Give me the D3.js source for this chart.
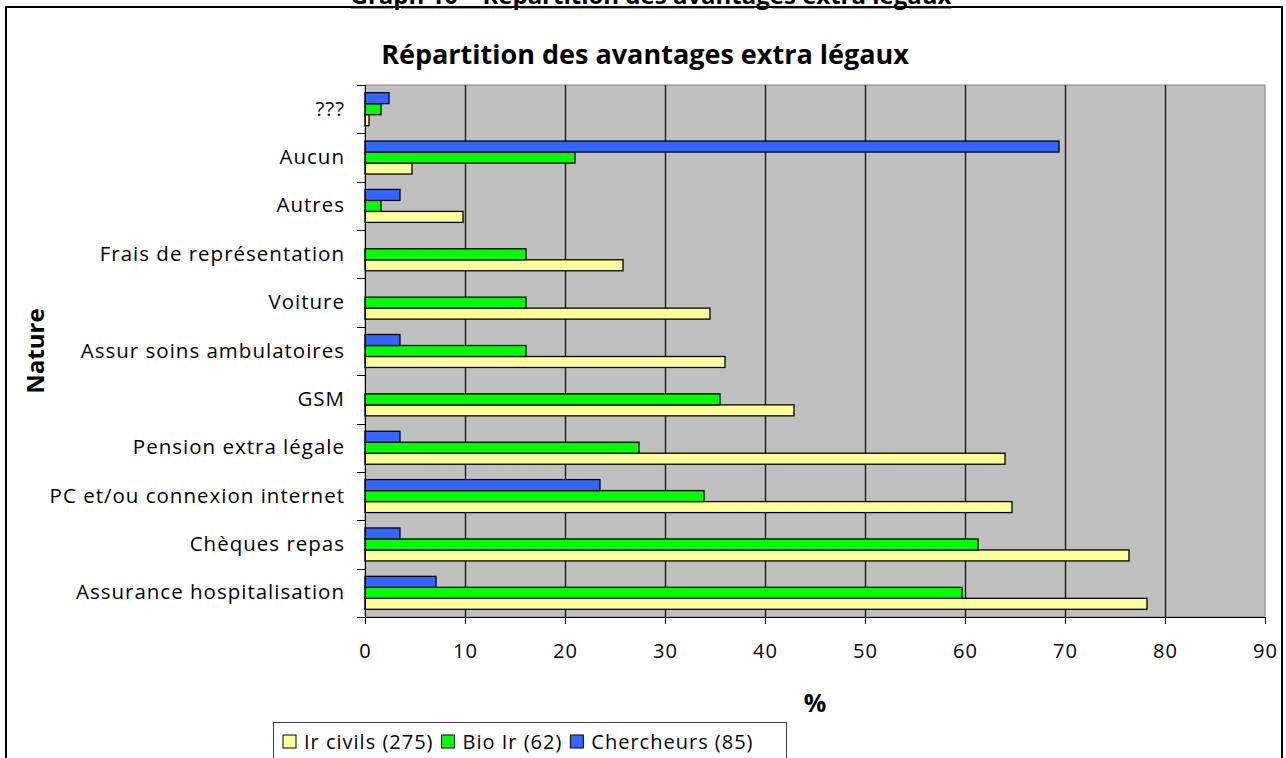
<!DOCTYPE html>
<html>
<head>
<meta charset="utf-8">
<script src="https://cdn.jsdelivr.net/npm/d3@7"></script>
<style>
body { margin: 0; background: #fff; }
svg { display: block; }
text { font-family: "Open Sans", sans-serif; fill: #000; }
</style>
</head>
<body>
<svg id="chart" width="1286" height="758"></svg>
<script>
// categories, top to bottom as drawn
var categories = ["???", "Aucun", "Autres", "Frais de représentation", "Voiture",
                  "Assur soins ambulatoires", "GSM", "Pension extra légale",
                  "PC et/ou connexion internet", "Chèques repas", "Assurance hospitalisation"];

// % per series, same order as categories
var irCivils   = [0.4, 4.7, 9.8, 25.8, 34.5, 36.0, 42.9, 64.0, 64.7, 76.4, 78.2];
var bioIr      = [1.6, 21.0, 1.6, 16.1, 16.1, 16.1, 35.5, 27.4, 33.9, 61.3, 59.7];
var chercheurs = [2.4, 69.4, 3.5, 0, 0, 3.5, 0, 3.5, 23.5, 3.5, 7.1];

var seriesNames  = ["Ir civils (275)", "Bio Ir (62)", "Chercheurs (85)"];
var seriesColors = ["#FFFF99", "#00FF00", "#3366FF"];
var xTicks = [0, 10, 20, 30, 40, 50, 60, 70, 80, 90];

var series = [
    { name: seriesNames[0], color: seriesColors[0], values: irCivils },
    { name: seriesNames[1], color: seriesColors[1], values: bioIr },
    { name: seriesNames[2], color: seriesColors[2], values: chercheurs }
];

var svg = d3.select("#chart");
var plot = { left: 365, right: 1265, top: 85, bottom: 617 };

var x = d3.scaleLinear().domain([0, 90]).range([plot.left, plot.right]);
var y = d3.scaleBand().domain(categories).range([plot.top, plot.bottom]).padding(0);
// blue on top, yellow at the bottom of each group
var ySub = d3.scaleBand().domain([2, 1, 0]).range([0, y.bandwidth()])
    .paddingInner(0).paddingOuter(0.7);

// outer frame + cut off heading
svg.append("text")
    .attr("x", 651).attr("y", 4)
    .attr("text-anchor", "middle")
    .style("font-size", "24px").style("font-weight", "bold")
    .style("text-decoration", "underline")
    .text("Graph 10 – Répartition des avantages extra légaux");

svg.append("rect")
    .attr("x", 6).attr("y", 7).attr("width", 1276).attr("height", 800)
    .attr("fill", "none").attr("stroke", "#000").attr("stroke-width", 2);

svg.append("text")
    .attr("x", 645).attr("y", 64)
    .attr("text-anchor", "middle")
    .style("font-size", "27px").style("font-weight", "bold")
    .text("Répartition des avantages extra légaux");

// plot area
svg.append("rect")
    .attr("x", plot.left).attr("y", plot.top)
    .attr("width", plot.right - plot.left).attr("height", plot.bottom - plot.top)
    .attr("fill", "#C0C0C0").attr("stroke", "#808080").attr("stroke-width", 1);

svg.append("g").selectAll("line")
    .data(xTicks.filter(function(d) { return d > 0 && d < 90; }))
    .enter().append("line")
    .attr("x1", function(d) { return Math.round(x(d)) + 0.5; })
    .attr("x2", function(d) { return Math.round(x(d)) + 0.5; })
    .attr("y1", plot.top).attr("y2", plot.bottom)
    .attr("stroke", "#1a1a1a").attr("stroke-width", 1.4);

// bars
var groups = svg.append("g").selectAll("g")
    .data(categories)
    .enter().append("g")
    .attr("transform", function(d) { return "translate(0," + y(d) + ")"; });

groups.selectAll("rect")
    .data(function(d, i) {
        return series.map(function(s, k) { return { k: k, color: s.color, value: s.values[i] }; })
            .filter(function(b) { return b.value > 0; });
    })
    .enter().append("rect")
    .attr("x", x(0))
    .attr("y", function(b) { return ySub(b.k); })
    .attr("width", function(b) { return x(b.value) - x(0); })
    .attr("height", ySub.bandwidth())
    .attr("fill", function(b) { return b.color; })
    .attr("stroke", "#000").attr("stroke-width", 1.3);

// x axis
var xAxis = d3.axisBottom(x).tickValues(xTicks).tickSize(7).tickSizeOuter(0).tickPadding(20);
var gx = svg.append("g").attr("transform", "translate(0," + plot.bottom + ")").call(xAxis);
gx.select(".domain").remove();
gx.selectAll("line").attr("stroke", "#000");
gx.selectAll("text").style("font-size", "20px").style("letter-spacing", "1px")
    .style("font-family", "'Open Sans', sans-serif");
svg.append("line")
    .attr("x1", plot.left - 8).attr("x2", plot.right)
    .attr("y1", plot.bottom + 0.5).attr("y2", plot.bottom + 0.5)
    .attr("stroke", "#000");

// y axis: labels centred on bands, ticks between categories
var yAxis = d3.axisLeft(y).tickSize(0).tickPadding(20);
var gy = svg.append("g").attr("transform", "translate(" + plot.left + ",0)").call(yAxis);
gy.select(".domain").remove();
gy.selectAll("text").style("font-size", "20.5px").style("letter-spacing", "1px")
    .style("font-family", "'Open Sans', sans-serif");

var bounds = d3.range(categories.length + 1).map(function(i) { return plot.top + i * y.step(); });
svg.append("g").selectAll("line")
    .data(bounds)
    .enter().append("line")
    .attr("x1", plot.left - 8).attr("x2", plot.left)
    .attr("y1", function(d) { return Math.round(d) + 0.5; })
    .attr("y2", function(d) { return Math.round(d) + 0.5; })
    .attr("stroke", "#000");
svg.append("line")
    .attr("x1", plot.left + 0.5).attr("x2", plot.left + 0.5)
    .attr("y1", plot.top).attr("y2", plot.bottom)
    .attr("stroke", "#000");

// axis titles
svg.append("text")
    .attr("transform", "translate(44," + ((plot.top + plot.bottom) / 2) + ") rotate(-90)")
    .attr("text-anchor", "middle")
    .style("font-size", "24px").style("font-weight", "bold")
    .text("Nature");

svg.append("text")
    .attr("x", (plot.left + plot.right) / 2).attr("y", 712)
    .attr("text-anchor", "middle")
    .style("font-size", "25px").style("font-weight", "bold")
    .text("%");

// legend
var legend = svg.append("g");
legend.append("rect")
    .attr("x", 273.5).attr("y", 722.5).attr("width", 513).attr("height", 60)
    .attr("fill", "#fff").attr("stroke", "#404040");

var lx = 283;
series.forEach(function(s) {
    legend.append("rect")
        .attr("x", lx).attr("y", 735).attr("width", 13).attr("height", 13)
        .attr("fill", s.color).attr("stroke", "#000");
    var t = legend.append("text")
        .attr("x", lx + 21).attr("y", 749)
        .style("font-size", "20px").style("letter-spacing", "1px")
        .text(s.name);
    lx += 21 + t.node().getComputedTextLength() + 8;
});
</script>
</body>
</html>
